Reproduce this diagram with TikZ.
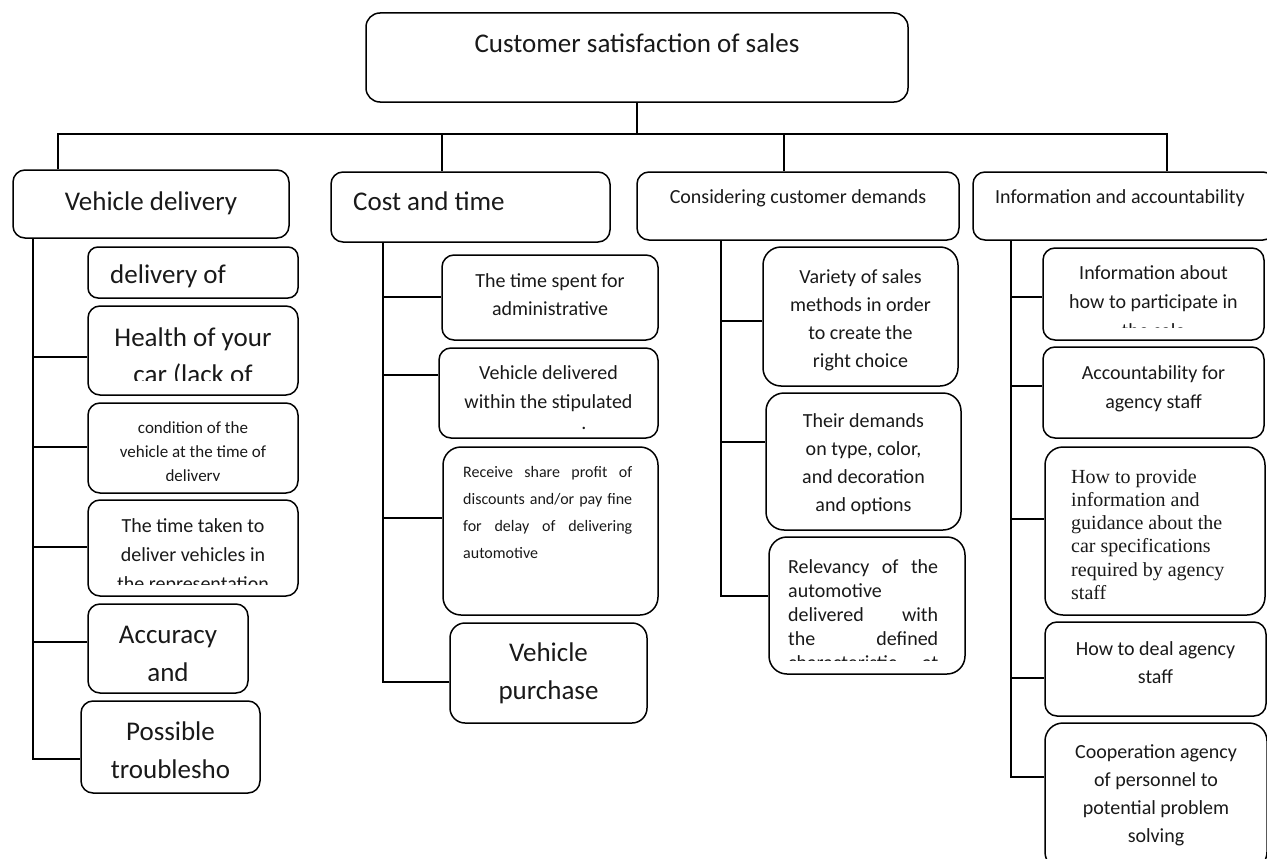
\documentclass[tikz,border=0pt]{standalone}
\usepackage{fontspec}
\setmainfont{Carlito}
\newfontfamily\timesfont{Liberation Serif}
\usetikzlibrary{fit}

\tikzset{
  box/.style={draw, line width=1.5pt, inner sep=0pt, rounded corners=#1},
  box/.default=12pt,
  link/.style={line width=1.5pt},
  lbl/.style={inner sep=0pt, anchor=base, text=black!90},
  para/.style={inner sep=0pt, anchor=north, align=center, text=black!90},
  parl/.style={inner sep=0pt, anchor=north west, align=left, text=black!90},
  fbig/.style={font=\fontsize{27}{37}\selectfont},
  fbigw/.style={font=\fontsize{27}{38}\selectfont},
  fmid/.style={font=\fontsize{20}{28}\selectfont},
  fmidw/.style={font=\fontsize{20}{29}\selectfont},
  fjust/.style={font=\fontsize{20}{24}\selectfont},
  fsmall/.style={font=\fontsize{17}{24}\selectfont},
  ftiny/.style={font=\fontsize{16}{27}\selectfont},
  fserif/.style={font=\timesfont\fontsize{20}{23.2}\selectfont},
}

\begin{document}
\begin{tikzpicture}[x=1pt, y=-1pt]
\useasboundingbox (0,0) rectangle (1267,859);
\clip (0,0) rectangle (1267,859);

% ---------- boxes ----------
\node[box=14pt, fit={(366,13)(908,102)}] (root) {};

\node[box, fit={(13,170)(289,238)}]   (vd)   {};
\node[box, fit={(331,172)(610,242)}]  (cost) {};
\node[box, fit={(637,172)(959,240)}]  (dem)  {};
\node[box, fit={(973,172)(1275,240)}] (info) {};

% vehicle delivery leaves
\node[box=10pt, fit={(88,247)(298,298)}]  (vd1) {};
\node[box, fit={(88,306)(298,395)}]  (vd2) {};
\node[box, fit={(88,403)(298,493)}]  (vd3) {};
\node[box, fit={(88,500)(298,596)}]  (vd4) {};
\node[box, fit={(88,604)(248,693)}]  (vd5) {};
\node[box, fit={(81,701)(260,793)}]  (vd6) {};

% cost and time leaves
\node[box, fit={(442,255)(658,340)}]  (ct1) {};
\node[box, fit={(439,348)(658,438)}]  (ct2) {};
\node[box=18pt, fit={(443,447)(658,615)}]  (ct3) {};
\node[box=15pt, fit={(450,623)(647,723)}]  (ct4) {};

% customer demand leaves
\node[box=18pt, fit={(763,247)(958,386)}] (dm1) {};
\node[box=18pt, fit={(766,393)(961,530)}] (dm2) {};
\node[box=18pt, fit={(769,537)(965,674)}] (dm3) {};

% information leaves
\node[box, fit={(1043,248)(1264,340)}]  (in1) {};
\node[box, fit={(1043,347)(1264,438)}]  (in2) {};
\node[box=18pt, fit={(1045,447)(1265,615)}]  (in3) {};
\node[box, fit={(1045,622)(1266,716)}]  (in4) {};
\node[box=18pt, fit={(1045,723)(1267,870)}]  (in5) {};

% ---------- connectors ----------
\coordinate (busL) at (58,134);
\coordinate (busR) at (1167,134);
\coordinate (busC) at (442,134);
\coordinate (busD) at (784,134);

\draw[link] (root.south) -- (root.south |- busL);
\draw[link] (vd.north -| busL) -- (busL) -- (busR) -- (busR |- info.north);
\draw[link] (busC) -- (busC |- cost.north);
\draw[link] (busD) -- (busD |- dem.north);

% trunks with their junctions
\coordinate (vdJ2) at (33,357);
\coordinate (vdJ3) at (33,447);
\coordinate (vdJ4) at (33,547);
\coordinate (vdJ5) at (33,642);
\coordinate (vdJ6) at (33,759);
\draw[link] (vdJ6 |- vd.south) -- (vdJ6) -- (vdJ6 -| vd6.west);
\foreach \k in {2,3,4,5}{ \draw[link] (vdJ\k) -- (vdJ\k -| vd\k.west); }

\coordinate (ctJ1) at (383,297);
\coordinate (ctJ2) at (383,375);
\coordinate (ctJ3) at (383,518);
\coordinate (ctJ4) at (383,682);
\draw[link] (ctJ4 |- cost.south) -- (ctJ4) -- (ctJ4 -| ct4.west);
\foreach \k in {1,2,3}{ \draw[link] (ctJ\k) -- (ctJ\k -| ct\k.west); }

\coordinate (dmJ1) at (721,321);
\coordinate (dmJ2) at (721,442);
\coordinate (dmJ3) at (721,596);
\draw[link] (dmJ3 |- dem.south) -- (dmJ3) -- (dmJ3 -| dm3.west);
\foreach \k in {1,2}{ \draw[link] (dmJ\k) -- (dmJ\k -| dm\k.west); }

\coordinate (inJ1) at (1011,297);
\coordinate (inJ2) at (1011,386);
\coordinate (inJ3) at (1011,519);
\coordinate (inJ4) at (1011,678);
\coordinate (inJ5) at (1011,777);
\draw[link] (inJ5 |- info.south) -- (inJ5) -- (inJ5 -| in5.west);
\foreach \k in {1,2,3,4}{ \draw[link] (inJ\k) -- (inJ\k -| in\k.west); }

% ---------- texts ----------
\node[lbl, fbig] (root-t) at (637,53) {Customer satisfaction of sales};

\node[lbl, fbig] (vd-t) at (151,210) {Vehicle delivery};
\node[lbl, fbig, anchor=base west] (cost-t) at (353,210) {Cost and time};
\node[lbl, fmid] (dem-t) at (798,203) {Considering customer demands};
\node[lbl, fmid] (info-t) at (1120,203) {Information and accountability};

% vehicle delivery leaf texts (clipped to the text area of each box)
\node[lbl, fbig, anchor=base west] (vd1-t) at (110,283) {delivery of};
\begin{scope}
  \clip (vd2.north west) rectangle ([yshift=15pt]vd2.south east);
  \node[para, fbig] (vd2-t) at (193,320.1) {\strut Health of your\\car (lack of};
\end{scope}
\begin{scope}
  \clip (vd3.north west) rectangle ([yshift=13pt]vd3.south east);
  \node[para, fsmall] (vd3-t) at (193,416.2) {\strut condition of the\\vehicle at the time of\\delivery};
\end{scope}
\begin{scope}
  \clip (vd4.north west) rectangle ([yshift=12pt]vd4.south east);
  \node[para, fmidw] (vd4-t) at (193,511.7) {\strut The time taken to\\deliver vehicles in\\the representation};
\end{scope}
\begin{scope}
  \clip (vd5.north west) rectangle ([yshift=13pt]vd5.south east);
  \node[para, fbigw] (vd5-t) at (168,616.4) {\strut Accuracy\\and};
\end{scope}
\begin{scope}
  \clip (vd6.north west) rectangle ([yshift=15pt]vd6.south east);
  \node[para, fbigw] (vd6-t) at (170.5,713.4) {\strut Possible\\troublesho};
\end{scope}

% cost and time leaf texts
\node[para, fmid] (ct1-t) at (550,267.4) {\strut The time spent for\\administrative};
\node[para, fmidw] (ct2-t) at (548.5,358.7) {\strut Vehicle delivered\\within the stipulated\\[-8pt]\hspace*{71pt}.};
\node[parl, ftiny] (ct3-t) at (463,458.1) {\strut\makebox[169pt][s]{Receive share profit of}\\
  \makebox[169pt][s]{discounts and/or pay fine}\\
  \makebox[169pt][s]{for delay of delivering}\\
  automotive};
\node[para, fbigw] (ct4-t) at (548.5,634.4) {\strut Vehicle\\purchase};

% customer demand leaf texts
\node[para, fmid] (dm1-t) at (860.5,263.4) {\strut Variety of sales\\methods in order\\to create the\\right choice};
\node[para, fmid] (dm2-t) at (863.5,407.4) {\strut Their demands\\on type, color,\\and decoration\\and options};
\begin{scope}
  \clip (dm3.north west) rectangle ([yshift=14pt]dm3.south east);
  \node[parl, fjust] (dm3-t) at (788,556.2) {\strut\makebox[150pt][s]{Relevancy of the}\\
    automotive\\
    \makebox[150pt][s]{delivered with}\\
    \makebox[150pt][s]{the defined}\\
    \makebox[150pt][s]{characteristic at}};
\end{scope}

% information leaf texts
\begin{scope}
  \clip (in1.north west) rectangle ([yshift=13pt]in1.south east);
  \node[para, fmidw] (in1-t) at (1153.5,258.7) {\strut Information about\\how to participate in\\the sale};
\end{scope}
\node[para, fmidw] (in2-t) at (1153.5,358.7) {\strut Accountability for\\agency staff};
\node[parl, fserif] (in3-t) at (1071,466.8) {\strut How to provide\\information and\\guidance about the\\car specifications\\required by agency\\staff};
\node[para, fmid] (in4-t) at (1155.5,635.4) {\strut How to deal agency\\staff};
\node[para, fmid] (in5-t) at (1156,738.4) {\strut Cooperation agency\\of personnel to\\potential problem\\solving};

\end{tikzpicture}
\end{document}
